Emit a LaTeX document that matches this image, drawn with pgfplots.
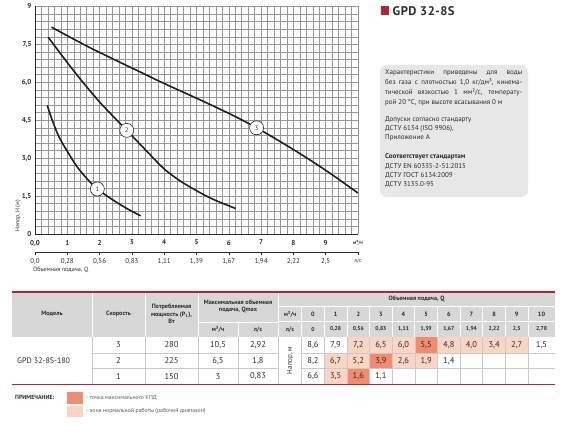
\documentclass[border=0pt]{standalone}
\usepackage{fontspec}
\setmainfont{PT Sans}
\usepackage{pgfplots}
\pgfplotsset{compat=1.18}
\definecolor{gridc}{HTML}{959595}
\definecolor{txt}{HTML}{2B2B2B}
\definecolor{redline}{HTML}{B8232F}
\definecolor{hdr}{HTML}{D7D7D7}
\definecolor{boxc}{HTML}{E7E7E7}
\definecolor{darkc}{HTML}{F18D6E}
\definecolor{lightc}{HTML}{FBD5C4}
\definecolor{cellline}{HTML}{C9C9C9}
\newcommand\fsz[1]{\fontsize{#1}{#1}\selectfont}
\begin{document}
\begin{tikzpicture}
\path[use as bounding box] (0,0) rectangle (570pt,-435pt);

\begin{axis}[
  at={(35pt,-234pt)}, anchor=south west,
  scale only axis, width=323pt, height=227.6pt,
  xmin=0, xmax=10, ymin=0, ymax=9,
  axis lines=left, axis line style={-, line width=0.9pt, color=txt},
  xtick={0,...,10},
  xticklabels={{0,0},1,2,3,4,5,6,7,8,9,{\fsz{5}м³/ч}},
  ytick={0,1.5,3,4.5,6,7.5,9},
  yticklabels={0,{1,5},{3,0},{4,5},{6,0},{7,5},9},
  minor x tick num=4, minor y tick num=4,
  grid=both,
  grid style={gridc, line width=0.45pt},
  major grid style={gridc, line width=0.55pt},
  major tick length=0pt, minor tick length=0pt,
  tick label style={font=\fsz{7}\bfseries, text=txt},
  xticklabel style={yshift=-2.5pt},
]
\addplot[smooth, line width=1.6pt, color=black!88] coordinates {
 (0.38,5.09) (0.5,4.62) (0.67,4.05) (0.8,3.7) (1.0,3.27) (1.29,2.68)
 (1.6,2.2) (1.93,1.78) (2.42,1.34) (2.84,1.01) (3.27,0.72)};
\addplot[smooth, line width=1.6pt, color=black!88] coordinates {
 (0.41,7.78) (1.2,6.45) (2.0,5.22) (2.84,4.1) (3.5,3.22) (4.02,2.55)
 (4.54,2.06) (5.16,1.6) (5.57,1.34) (6.21,1.01)};
\addplot[smooth, line width=1.6pt, color=black!88] coordinates {
 (0.51,8.18) (1.0,7.84) (1.7,7.37) (2.5,6.87) (3.3,6.38) (4.0,5.95)
 (5.0,5.37) (6.0,4.77) (6.86,4.2) (8.0,3.34) (9.0,2.52) (10.0,1.62)};
\addplot[only marks, mark=*, mark size=7pt,
  mark options={fill=white, draw=txt, line width=0.6pt},
  point meta=explicit symbolic, nodes near coords,
  every node near coord/.append style={anchor=center, font=\fsz{6.5}, text=txt, inner sep=0pt}]
  coordinates {(1.93,1.78)[1] (2.84,4.1)[2] (6.86,4.2)[3]};
\end{axis}

\begin{axis}[
  at={(35pt,-252.5pt)}, anchor=south west,
  scale only axis, width=323pt, height=5pt,
  xmin=0, xmax=10, ymin=0, ymax=1,
  hide y axis, axis x line*=bottom,
  axis line style={-, line width=0.7pt, color=txt},
  xtick={0,...,10},
  xticklabels={{0,0},{0,28},{0,56},{0,83},{1,11},{1,39},{1,67},{1,94},{2,22},{2,5},{\fsz{5.5}л/с}},
  tick align=outside, major tick length=2.5pt,
  tick style={color=txt, line width=0.5pt},
  xticklabel style={font=\fsz{7}, text=txt},
]
\addplot[draw=none] coordinates {(0,0)};
\end{axis}

\begin{scope}[x=1pt, y=-1pt, text=txt]
% axis texts
\node[rotate=90, font=\fsz{5.8}, inner sep=0] at (18,216) {Напор, H (м)};
\node[anchor=west, font=\fsz{6.2}, inner sep=0] at (33,270) {Объемная подача, Q};

% title
\fill[redline] (380.5,6.5) rectangle (388.5,15);
\node[anchor=west, inner sep=0, font=\fsz{12.5}\bfseries\addfontfeature{LetterSpace=4}] at (392.5,11) {GPD 32-8S};

% info box
\fill[boxc, rounded corners=7pt] (380,65) rectangle (528,197);
\begin{scope}[every node/.style={anchor=base west, inner sep=0, font=\fsz{7}}]
\node at (385,74.5) {\makebox[137pt][s]{Характеристики приведены для воды}};
\node at (385,84.3) {\makebox[137pt][s]{без газа с плотностью 1,0 кг/дм³, кинема-}};
\node at (385,94.2) {\makebox[137pt][s]{тической вязкостью 1 мм²/с, температу-}};
\node at (385,104.1) {рой 20 °С, при высоте всасывания 0 м};
\node at (385,121.1) {Допуски согласно стандарту};
\node at (385,130.5) {ДСТУ 6134 (ISO 9906),};
\node at (385,139.9) {Приложение А};
\node[font=\fsz{7}\bfseries] at (385,159) {Соответствует стандартам};
\node at (385,168.3) {ДСТУ EN 60335-2-51:2015};
\node at (385,177.6) {ДСТУ ГОСТ 6134:2009};
\node at (385,186.9) {ДСТУ 3135.0-95};
\end{scope}

% table header
\fill[hdr] (12,292) rectangle (555,336.7);
% coloured cells
\foreach \j in {2,3,4,6,7,8,9}
  \fill[lightc] ({301.7+22.63*\j},336.7) rectangle ({301.7+22.63*(\j+1)},353.3);
\fill[darkc] ({301.7+22.63*5},336.7) rectangle ({301.7+22.63*6},353.3);
\foreach \j in {1,2,4,5}
  \fill[lightc] ({301.7+22.63*\j},353.3) rectangle ({301.7+22.63*(\j+1)},368.3);
\fill[darkc] ({301.7+22.63*3},353.3) rectangle ({301.7+22.63*4},368.3);
\fill[lightc] ({301.7+22.63*1},368.3) rectangle ({301.7+22.63*2},384.3);
\fill[darkc] ({301.7+22.63*2},368.3) rectangle ({301.7+22.63*3},384.3);

% header separators
\begin{scope}[draw=white, line width=0.8pt]
\foreach \x in {92,145,198,278} \draw (\x,292) -- (\x,336.7);
\draw (238,322) -- (238,336.7);
\draw (198,322) -- (278,322);
\draw (278,306.7) -- (555,306.7);
\draw (278,321.7) -- (555,321.7);
\foreach \j in {0,...,10} \draw ({301.7+22.63*\j},306.7) -- ({301.7+22.63*\j},336.7);
\end{scope}

% data grid
\begin{scope}[draw=cellline, line width=0.5pt]
\draw (92,353.3) -- (278,353.3);
\draw (92,368.3) -- (278,368.3);
\draw (301.7,353.3) -- (555,353.3);
\draw (301.7,368.3) -- (555,368.3);
\foreach \x in {92,145,198,238,278} \draw (\x,336.7) -- (\x,384.3);
\foreach \j in {0,...,10} \draw ({301.7+22.63*\j},336.7) -- ({301.7+22.63*\j},384.3);
\end{scope}

% red rules
\draw[redline, line width=1.5pt] (12,292) -- (555,292);
\draw[redline, line width=1.5pt] (12,384.3) -- (555,384.3);

% header texts
\begin{scope}[every node/.style={inner sep=0, align=center, font=\fsz{6.2}\bfseries}]
\node at (52,314) {Модель};
\node at (118.5,314) {Скорость};
\node[font={\fontsize{6.2}{7.5}\selectfont\bfseries}] at (171.5,313.8) {Потребляемая\\мощность (P\textsubscript{1}),\\Вт};
\node[font={\fontsize{6.2}{7}\selectfont\bfseries}] at (238,306.8) {Максимальная объемная\\подача, Qmax};
\node at (218,329.3) {м³/ч};
\node at (258,329.3) {л/с};
\node at (416.5,299.3) {Объемная подача, Q};
\node at (290,314.3) {м³/ч};
\node at (290,329.3) {л/с};
\foreach \x/\v in {313.0/0,335.6/1,358.3/2,380.9/3,403.5/4,426.2/5,448.8/6,471.4/7,494.1/8,516.7/9,541.5/10}
  \node at (\x,314.3) {\v};
\foreach \x/\v in {313.0/{0},335.6/{0,28},358.3/{0,56},380.9/{0,83},403.5/{1,11},426.2/{1,39},448.8/{1,67},471.4/{1,94},494.1/{2,22},516.7/{2,5},541.5/{2,78}}
  \node[font=\fsz{5.6}\bfseries] at (\x,329.3) {\v};
\end{scope}

% data texts
\begin{scope}[every node/.style={inner sep=0, font=\fsz{8.5}}]
\node[anchor=west, font=\fsz{8}] at (17,360.8) {GPD 32-8S-180};
\node at (118.5,345) {3};
\node at (118.5,360.8) {2};
\node at (118.5,376.3) {1};
\node at (171.5,345) {280};
\node at (171.5,360.8) {225};
\node at (171.5,376.3) {150};
\node at (218,345) {10,5};
\node at (218,360.8) {6,5};
\node at (218,376.3) {3};
\node at (258,345) {2,92};
\node at (258,360.8) {1,8};
\node at (258,376.3) {0,83};
\node[rotate=90, font=\fsz{7}] at (290,360.5) {Напор, м};
\foreach \x/\v in {313.0/{8,6},335.6/{7,9},358.3/{7,2},380.9/{6,5},403.5/{6,0},426.2/{5,5},448.8/{4,8},471.4/{4,0},494.1/{3,4},516.7/{2,7},541.5/{1,5}}
  \node at (\x,345) {\v};
\foreach \x/\v in {313.0/{8,2},335.6/{6,7},358.3/{5,2},380.9/{3,9},403.5/{2,6},426.2/{1,9},448.8/{1,4}}
  \node at (\x,360.8) {\v};
\foreach \x/\v in {313.0/{6,6},335.6/{3,5},358.3/{1,6},380.9/{1,1}}
  \node at (\x,376.3) {\v};
\end{scope}

% note
\node[anchor=west, inner sep=0, font=\fsz{6}\bfseries] at (15,397.5) {ПРИМЕЧАНИЕ:};
\fill[darkc] (66.7,391.7) rectangle (83.3,404);
\fill[lightc] (66.7,406) rectangle (83.3,417.3);
\node[anchor=west, inner sep=0, font=\fsz{5.8}, text=black!65] at (86,397.8) {- точка максимального КПД};
\node[anchor=west, inner sep=0, font=\fsz{5.8}, text=black!65] at (86,411.5) {- зона нормальной работы (рабочий диапазон)};
\end{scope}
\end{tikzpicture}
\end{document}
